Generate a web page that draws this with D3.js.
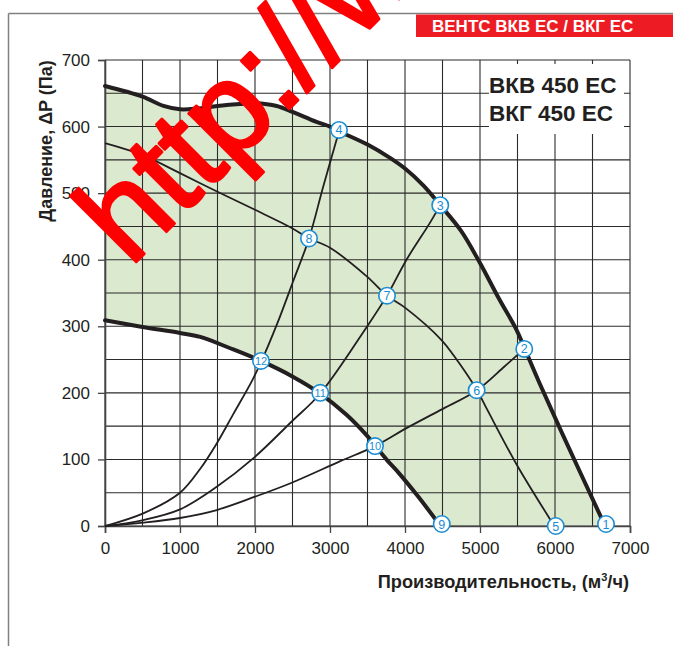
<!DOCTYPE html>
<html><head><meta charset="utf-8">
<script src="https://cdn.jsdelivr.net/npm/d3@7/dist/d3.min.js"></script>
<style>
html,body{margin:0;padding:0;background:#fff;}
svg{display:block;}
text{font-family:Arial,"Liberation Sans",sans-serif;}
</style></head>
<body>
<svg id="chart" width="673" height="646"></svg>
<script>
// ---- data ----
const xTicks = [0,1000,2000,3000,4000,5000,6000,7000];
const yTicks = [0,100,200,300,400,500,600,700];
const title = "ВЕНТС ВКВ ЕС / ВКГ ЕС";
const models = ["ВКВ 450 ЕС","ВКГ 450 ЕС"];
const yLabel = "Давление, ΔP (Па)";
const watermark = "http://w";

// max speed curve (thick, upper)
const maxX = [0,500,780,1000,1220,1500,1800,2000,2290,2500,2820,3000,3120,3500,3800,4000,4250,4470,4750,5000,5250,5490,5590,5800,6100,6660];
const maxY = [661,645,631,626,627,631,634,635,631,622,607,600,593,573,553,537,511,482,443,395,342,294,268,213,138,2];
// min speed curve (thick, lower)
const minX = [0,500,1000,1270,1670,2080,2510,2870,3220,3490,3600,3760,3930,4170,4460];
const minY = [309,299,290,284,267,248,224,199,167,136,121,99,78,45,2];
// intermediate fan curve (thin)
const midX = [0,500,1000,1500,2000,2500,2720,3000,3490,3760,4000,4490,4650,4960,5100,5490,5980];
const midY = [575,557,530,502,475,447,432,418,375,346,328,279,256,204,174,92,2];
// system curves (thin, from origin)
const sysAX = [0,510,1000,1270,1490,1710,1960,2080,2300,2510,2720,2910,3120];
const sysAY = [0,19,50,86,124,168,218,246,305,368,432,510,593];
const sysBX = [0,510,1000,1490,1980,2490,2870,3490,3760,4020,4330,4470];
const sysBY = [0,9,25,59,102,157,199,299,346,400,455,482];
const sysCX = [0,510,1000,1490,2000,2490,3130,3600,4020,4470,4960,5330,5590];
const sysCY = [0,5,12,24,44,65,97,120,147,174,204,240,266];
// numbered operating points
const pointIds = [1,2,3,4,5,6,7,8,9,10,11,12];
const pointX = [6680,5590,4470,3120,6010,4955,3760,2720,4490,3600,2870,2080];
const pointY = [3,266,482,595,0,204,346,432,3,120,200,248];

// ---- chart ----
const svg = d3.select("#chart");
const x = d3.scaleLinear().domain([0,7000]).range([105,630]);
const y = d3.scaleLinear().domain([0,700]).range([526,60]);
const zip = (a,b) => a.map((v,i)=>[v,b[i]]);
const line = d3.line().x(d=>x(d[0])).y(d=>y(d[1])).curve(d3.curveCatmullRom.alpha(0.5));
const ink = "#231f20";

// outer frame
svg.append("line").attr("x1",8.5).attr("x2",673).attr("y1",13.5).attr("y2",13.5).attr("stroke","#808080").attr("stroke-width",1.5);
svg.append("line").attr("x1",8.5).attr("x2",8.5).attr("y1",13.5).attr("y2",646).attr("stroke","#808080").attr("stroke-width",1.5);
svg.append("rect").attr("x",416).attr("y",14.5).attr("width",257).attr("height",22.5).attr("fill","#ed1c24");
svg.append("text").attr("x",432).attr("y",32).attr("fill","#fff").attr("font-weight","bold").attr("font-size",17).text(title);

// green area
const upper = zip(maxX,maxY), lower = zip(minX,minY);
const areaPath = line(upper) + "L" + x(minX[minX.length-1]) + "," + y(0) + line(lower.slice().reverse()).replace(/^M/,"L") + "Z";
svg.append("path").attr("d",areaPath).attr("fill","#dbe9cf");

// grid
const g = svg.append("g");
d3.range(0,7001,500).forEach(v=>{
  g.append("line").attr("x1",x(v)).attr("x2",x(v)).attr("y1",y(0)).attr("y2",y(700)).attr("stroke","#2b2b2b").attr("stroke-width",1.1);
});
d3.range(0,701,50).forEach(v=>{
  g.append("line").attr("x1",x(0)).attr("x2",x(7000)).attr("y1",y(v)).attr("y2",y(v)).attr("stroke","#2b2b2b").attr("stroke-width",1.1);
});

// axes
const xAxis = d3.axisBottom(x).tickValues(xTicks).tickSize(7).tickPadding(9).tickFormat(d3.format("d"));
const yAxis = d3.axisLeft(y).tickValues(yTicks).tickSize(7).tickPadding(8).tickFormat(d3.format("d"));
const gx = svg.append("g").attr("transform",`translate(0,${y(0)})`).call(xAxis);
const gy = svg.append("g").attr("transform",`translate(${x(0)},0)`).call(yAxis);
[gx,gy].forEach(a=>{
  a.select(".domain").attr("stroke","#444").attr("stroke-width",1.6);
  a.selectAll(".tick line").attr("stroke","#444").attr("stroke-width",1.3);
  a.selectAll(".tick text").attr("font-size",17).attr("fill",ink).attr("font-family","Arial, 'Liberation Sans', sans-serif");
});

// legend box (white, hides grid)
svg.append("rect").attr("x",489).attr("y",64).attr("width",135).attr("height",70).attr("fill","#fff");
svg.append("text").attr("x",489).attr("y",92.5).attr("font-size",22.5).attr("font-weight","bold").attr("fill",ink).text(models[0]);
svg.append("text").attr("x",489).attr("y",121).attr("font-size",22.5).attr("font-weight","bold").attr("fill",ink).text(models[1]);

// curves
[[sysAX,sysAY],[sysBX,sysBY],[sysCX,sysCY],[midX,midY]].forEach(([a,b])=>{
  svg.append("path").attr("d",line(zip(a,b))).attr("fill","none").attr("stroke",ink).attr("stroke-width",1.8);
});
[upper,lower].forEach(d=>{
  svg.append("path").attr("d",line(d)).attr("fill","none").attr("stroke",ink).attr("stroke-width",4).attr("stroke-linecap","round");
});

// markers
const mk = svg.append("g").selectAll("g").data(pointIds.map((id,i)=>({id,x:pointX[i],y:pointY[i]}))).join("g")
  .attr("transform",d=>`translate(${x(d.x)},${y(d.y)})`);
mk.append("circle").attr("r",8.2).attr("fill","#fff").attr("stroke","#1b8dd3").attr("stroke-width",1.6);
mk.append("text").attr("text-anchor","middle").attr("dy","0.36em").attr("font-size",d=>d.id>9?11:12.5).attr("fill","#1b8dd3").text(d=>d.id);

// axis titles
svg.append("text").attr("x",629).attr("y",588).attr("text-anchor","end").attr("font-size",18.2).attr("font-weight","bold").attr("fill",ink)
  .html('Производительность, (м<tspan dy="-7" font-size="11">3</tspan><tspan dy="7">/ч)</tspan>');
svg.append("text").attr("transform","translate(52,141) rotate(-90)").attr("text-anchor","middle").attr("font-size",18).attr("font-weight","bold").attr("fill",ink).text(yLabel);

// watermark
svg.append("text").attr("transform","translate(130,268) rotate(-45)").attr("font-size",128).attr("fill","#ff0000")
  .attr("stroke","#ff0000").attr("stroke-width",3).attr("stroke-linejoin","round").text(watermark);
</script>
</body></html>
